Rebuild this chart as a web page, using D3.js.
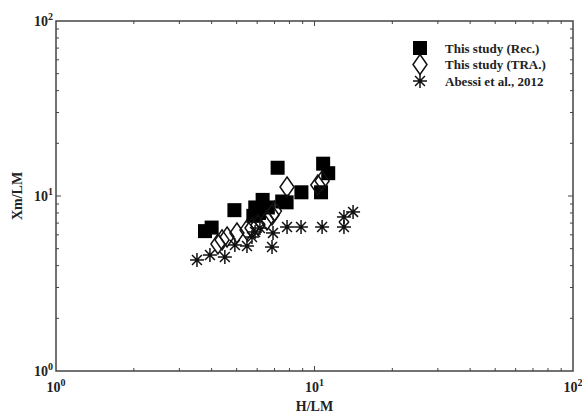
<!DOCTYPE html>
<html>
<head>
<meta charset="utf-8">
<script src="https://cdn.jsdelivr.net/npm/d3@7"></script>
<style>
  body { margin: 0; background: #fff; }
  text { font-family: "Liberation Serif", "DejaVu Serif", serif; font-weight: bold; fill: #222; }
</style>
</head>
<body>
<script>
var width = 582,
    height = 417;

// data (H/LM, Xm/LM)
var recX = [3.77, 4.0, 4.9, 5.8, 5.9, 6.1, 6.3, 6.6, 7.2, 7.5, 7.8, 8.9, 10.8, 11.3, 10.6];
var recY = [6.3, 6.6, 8.3, 7.7, 8.6, 8.0, 9.5, 8.6, 14.5, 9.3, 9.2, 10.5, 15.3, 13.5, 10.5];

var traX = [4.23, 4.39, 4.59, 5.01, 5.48, 5.73, 6.04, 6.55, 6.85, 7.0, 7.83, 10.3, 10.7];
var traY = [5.32, 5.61, 5.83, 6.15, 6.4, 6.56, 6.83, 7.29, 7.79, 8.2, 11.25, 11.56, 12.2];

var abeX = [3.51, 3.94, 4.5, 4.92, 5.48, 5.73, 5.89, 6.15, 6.91, 6.85, 7.83, 8.87, 10.7, 13.0, 14.1, 13.0];
var abeY = [4.31, 4.6, 4.48, 5.25, 5.18, 5.83, 6.23, 6.56, 6.15, 5.11, 6.65, 6.65, 6.65, 7.59, 8.11, 6.65];

var legendLabels = ["This study (Rec.)", "This study (TRA.)", "Abessi et al., 2012"];
var decades = [0, 1, 2];

var pL = 56, pR = 573, pT = 21, pB = 371;

var x = d3.scaleLog().domain([1, 100]).range([pL, pR]);
var y = d3.scaleLog().domain([1, 100]).range([pB, pT]);

var svg = d3.select("body").append("svg")
    .attr("width", width)
    .attr("height", height);

var minor = [];
[1, 10].forEach(function (b) {
  for (var k = 2; k <= 9; k++) minor.push(b * k);
});

var axisColor = "#444";

// frame
svg.append("rect")
    .attr("x", pL).attr("y", pT)
    .attr("width", pR - pL).attr("height", pB - pT)
    .attr("fill", "none")
    .attr("stroke", axisColor)
    .attr("stroke-width", 1.5);

// inward ticks on all four sides
function ticks(vals, len) {
  vals.forEach(function (v) {
    var px = x(v), py = y(v);
    svg.append("line").attr("x1", px).attr("x2", px).attr("y1", pB).attr("y2", pB - len)
        .attr("stroke", axisColor).attr("stroke-width", 1);
    svg.append("line").attr("x1", px).attr("x2", px).attr("y1", pT).attr("y2", pT + len)
        .attr("stroke", axisColor).attr("stroke-width", 1);
    svg.append("line").attr("y1", py).attr("y2", py).attr("x1", pL).attr("x2", pL + len)
        .attr("stroke", axisColor).attr("stroke-width", 1);
    svg.append("line").attr("y1", py).attr("y2", py).attr("x1", pR).attr("x2", pR - len)
        .attr("stroke", axisColor).attr("stroke-width", 1);
  });
}
ticks(minor, 3);
ticks([10], 5);

// tick labels 10^n
decades.forEach(function (d) {
  var v = Math.pow(10, d);
  var t = svg.append("text")
      .attr("x", x(v))
      .attr("y", pB + 21)
      .attr("text-anchor", "middle")
      .style("font-size", "14px");
  t.append("tspan").text("10");
  t.append("tspan").attr("dy", -6).style("font-size", "10px").text(d);

  var t2 = svg.append("text")
      .attr("x", pL - 3)
      .attr("y", y(v) + 5)
      .attr("text-anchor", "end")
      .style("font-size", "14px");
  t2.append("tspan").text("10");
  t2.append("tspan").attr("dy", -6).style("font-size", "10px").text(d);
});

// axis titles
svg.append("text")
    .attr("x", x(10))
    .attr("y", 411)
    .attr("text-anchor", "middle")
    .style("font-size", "14px")
    .text("H/LM");

svg.append("text")
    .attr("transform", "translate(22," + ((pT + pB) / 2) + ") rotate(-90)")
    .attr("text-anchor", "middle")
    .style("font-size", "14px")
    .text("Xm/LM");

// marker shapes
function square(g, cx, cy) {
  g.append("rect").attr("x", cx - 7).attr("y", cy - 7)
      .attr("width", 14).attr("height", 14).attr("fill", "#000");
}
function diamond(g, cx, cy) {
  g.append("path")
      .attr("d", "M" + cx + "," + (cy - 10) + "L" + (cx + 7) + "," + cy +
                 "L" + cx + "," + (cy + 10) + "L" + (cx - 7) + "," + cy + "Z")
      .attr("fill", "none").attr("stroke", "#111").attr("stroke-width", 1.5);
}
function star(g, cx, cy) {
  var r = 7;
  for (var i = 0; i < 4; i++) {
    var a = i * Math.PI / 4;
    g.append("line")
        .attr("x1", cx - r * Math.cos(a)).attr("y1", cy - r * Math.sin(a))
        .attr("x2", cx + r * Math.cos(a)).attr("y2", cy + r * Math.sin(a))
        .attr("stroke", "#111").attr("stroke-width", 1.5);
  }
  g.append("circle").attr("cx", cx).attr("cy", cy).attr("r", 2).attr("fill", "#111");
}

var gRec = svg.append("g");
recX.forEach(function (v, i) { square(gRec, x(v), y(recY[i])); });
var gTra = svg.append("g");
traX.forEach(function (v, i) { diamond(gTra, x(v), y(traY[i])); });
var gAbe = svg.append("g");
abeX.forEach(function (v, i) { star(gAbe, x(v), y(abeY[i])); });

// legend
var shapes = [square, diamond, star];
var legend = svg.append("g");
legendLabels.forEach(function (lab, i) {
  var ly = 48 + i * 16.5;
  shapes[i](legend, 420, ly);
  legend.append("text")
      .attr("x", 445)
      .attr("y", ly + 4.5)
      .style("font-size", "13px")
      .text(lab);
});
</script>
</body>
</html>
